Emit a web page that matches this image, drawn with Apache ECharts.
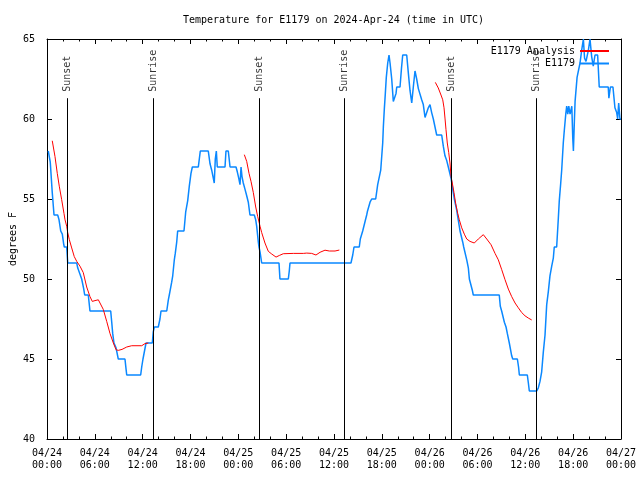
<!DOCTYPE html>
<html><head><meta charset="utf-8">
<script src="https://cdn.jsdelivr.net/npm/echarts@6/dist/echarts.min.js"></script>
<style>html,body{margin:0;padding:0;background:#fff}#c{width:640px;height:480px}</style>
</head><body><div id="c"></div>
<script>
const tickLabels = ['04/24\n00:00','04/24\n06:00','04/24\n12:00','04/24\n18:00','04/25\n00:00','04/25\n06:00','04/25\n12:00','04/25\n18:00','04/26\n00:00','04/26\n06:00','04/26\n12:00','04/26\n18:00','04/27\n00:00'];

// hours since 2024-04-24 00:00 UTC
const blueHours = [0.16,0.41,0.66,0.88,1.34,1.51,1.72,1.92,2.09,2.17,2.47,2.60,3.73,3.85,4.14,4.35,4.60,4.73,5.18,5.39,7.99,8.12,8.24,8.40,8.66,8.94,9.78,9.91,10.00,11.75,11.88,12.04,12.42,13.21,13.33,13.46,13.96,14.17,14.30,15.02,15.22,15.34,15.51,15.64,15.77,15.97,16.09,16.27,16.39,17.18,17.22,17.40,17.65,17.85,18.06,18.23,18.98,19.23,20.23,20.45,20.66,20.86,20.98,21.11,21.24,21.36,22.33,22.45,22.74,22.96,23.71,23.87,24.05,24.21,24.34,24.46,24.62,24.84,25.05,25.25,25.46,26.00,26.18,26.30,26.51,26.59,26.72,26.93,29.10,29.22,30.27,30.39,30.48,38.13,38.35,38.51,39.17,39.30,39.60,39.95,40.10,40.18,40.52,40.73,41.23,41.48,41.86,42.11,42.19,42.31,42.44,42.56,42.74,42.90,43.03,43.24,43.44,43.66,43.78,43.87,44.28,44.47,44.62,45.12,45.32,45.53,45.75,45.95,46.16,46.37,46.58,46.79,47.00,47.20,47.42,47.63,47.83,48.04,48.25,48.46,48.67,48.88,49.51,49.71,49.92,50.14,50.34,50.68,50.96,51.09,51.39,51.68,51.81,52.00,52.15,52.27,52.47,52.65,52.85,52.98,53.19,53.35,53.47,56.73,56.86,57.03,57.20,57.37,57.58,57.74,57.99,58.12,58.29,58.42,59.00,59.15,59.25,60.25,60.38,60.50,61.43,61.63,61.84,62.05,62.25,62.47,62.68,62.88,63.09,63.31,63.51,63.63,63.93,64.14,64.26,64.44,64.56,64.76,64.89,65.07,65.19,65.32,65.45,65.61,65.83,65.95,66.03,66.16,66.24,66.37,66.49,66.86,67.07,67.28,67.43,67.61,67.91,68.11,68.32,68.52,68.74,69.07,69.27,70.40,70.48,70.67,70.99,71.24,71.46,71.58,71.71,71.87,72.00];
const blueTemps = [58.0,57.3,55.4,54.0,54.0,53.7,53.0,52.8,52.2,52.0,52.0,51.0,51.0,50.7,50.3,50.0,49.4,49.0,49.0,48.0,48.0,47.3,46.6,46.0,45.7,45.0,45.0,44.4,44.0,44.0,44.5,45.0,46.0,46.0,46.7,47.0,47.0,47.5,48.0,48.0,48.7,49.0,49.0,49.8,50.2,51.2,51.6,52.3,53.0,53.0,53.2,54.2,54.9,55.8,56.6,57.0,57.0,58.0,58.0,57.2,56.8,56.3,56.0,57.5,58.0,57.0,57.0,58.0,58.0,57.0,57.0,56.7,56.3,55.9,57.0,56.4,56.0,55.6,55.2,54.8,54.0,54.0,53.7,53.3,52.3,52.0,51.7,51.0,51.0,50.0,50.0,50.5,51.0,51.0,51.5,52.0,52.0,52.5,53.0,53.7,54.0,54.2,54.8,55.0,55.0,55.9,56.8,58.5,59.5,60.6,61.6,62.6,63.5,64.0,63.5,62.5,61.1,61.0,61.6,62.0,62.0,63.2,64.0,64.0,62.9,61.8,61.0,62.0,63.0,62.5,61.9,61.9,61.2,60.9,60.1,60.1,60.7,60.9,60.4,60.0,59.5,59.0,59.0,58.3,57.7,57.4,57.0,56.3,55.4,55.0,54.3,53.4,53.0,53.0,52.3,52.0,52.0,51.2,50.7,50.0,50.0,49.3,49.0,49.0,48.3,48.0,48.0,47.3,47.0,46.6,46.0,46.0,45.2,45.0,45.0,44.5,44.0,44.0,43.5,43.0,43.0,43.2,43.6,44.2,45.4,46.5,48.4,49.2,50.2,50.8,51.3,52.0,52.0,53.8,54.9,56.0,56.8,58.5,59.3,60.3,60.8,60.3,60.8,60.3,60.8,58.8,58.0,60.0,61.1,61.2,62.6,63.5,64.3,65.0,63.8,63.6,64.3,65.0,63.9,63.3,64.0,64.0,62.0,62.0,61.3,62.0,62.0,60.7,60.4,60.0,61.0,60.0,60.0];

const redHours = [0.66,1.00,1.29,1.54,1.84,2.13,2.26,2.47,2.60,2.80,3.10,3.42,3.73,4.14,4.55,4.98,5.39,5.68,6.02,6.44,6.65,7.06,7.49,7.90,8.32,8.66,8.94,9.41,10.00,10.62,11.88,12.29,12.71,
  18.0,
  24.75,25.05,25.34,25.59,25.88,26.18,26.43,26.72,26.93,27.34,27.76,28.19,28.73,29.14,29.64,30.90,32.15,32.58,33.20,33.74,34.25,34.87,35.41,36.13,36.67,
  42.0,
  48.71,49.08,49.42,49.64,49.80,49.92,50.05,50.21,50.39,50.55,50.68,50.84,51.05,51.27,51.52,51.72,52.02,52.35,52.65,53.06,53.60,54.10,54.73,55.16,55.70,56.20,56.61,57.04,57.45,57.87,58.29,58.71,59.12,59.55,59.96,60.37,60.80];
const redTemps = [58.64,57.66,56.6,55.8,54.96,54.1,53.7,53.3,52.9,52.46,51.94,51.4,51.1,50.8,50.4,49.5,48.9,48.6,48.65,48.7,48.6,48.1,47.35,46.6,46.0,45.58,45.54,45.6,45.75,45.83,45.83,45.96,46.0,
  null,
  57.77,57.35,56.6,56.1,55.4,54.5,53.9,53.3,52.9,52.25,51.73,51.56,51.37,51.47,51.58,51.6,51.6,51.62,51.6,51.5,51.67,51.8,51.75,51.75,51.81,
  null,
  62.29,61.94,61.5,61.2,60.7,60.06,59.33,58.5,57.9,57.25,56.4,56.0,55.4,54.7,54.1,53.7,53.2,52.8,52.5,52.35,52.25,52.5,52.77,52.5,52.14,51.6,51.2,50.58,49.96,49.37,48.9,48.5,48.2,47.9,47.7,47.56,47.44];

const sunHours = [2.55, 13.32, 26.60, 37.27, 50.67, 61.33];
const sunNames = ['Sunset','Sunrise','Sunset','Sunrise','Sunset','Sunrise'];

const FONT = 'DejaVu Sans Mono';
const chart = echarts.init(document.getElementById('c'), null, {renderer:'canvas'});

const blueData = blueHours.map((h,i)=>[h, blueTemps[i]]);
const redData = redHours.map((h,i)=>[h, redTemps[i] === null ? '-' : redTemps[i]]);

const xBase = {
  type:'value', min:0, max:72, interval:6,
  axisLine:{show:true, onZero:false, lineStyle:{color:'#000', width:1}},
  axisTick:{show:true, inside:true, length:5, lineStyle:{color:'#000'}},
  minorTick:{show:true, splitNumber:3, length:2.5, lineStyle:{color:'#000'}},
  splitLine:{show:false}, minorSplitLine:{show:false}
};
const yBase = {
  type:'value', min:40, max:65, interval:5,
  axisLine:{show:true, onZero:false, lineStyle:{color:'#000', width:1}},
  axisTick:{show:true, inside:true, length:5, lineStyle:{color:'#000'}},
  splitLine:{show:false}
};

chart.setOption({
  animation:false,
  backgroundColor:'#fff',
  textStyle:{fontFamily:FONT},
  title:{text:'Temperature for E1179 on 2024-Apr-24 (time in UTC)', left:183, top:14, padding:0,
    textStyle:{fontFamily:FONT, fontSize:10, fontWeight:'normal', color:'#000', lineHeight:12}},
  grid:{left:47, right:19, top:39, bottom:41, containLabel:false, outerBoundsMode:'none'},
  legend:{
    data:['E1179 Analysis','E1179'], orient:'vertical', align:'right', padding:0,
    right:30, top:45, itemWidth:29, itemHeight:12, itemGap:0.5,
    itemStyle:{opacity:0},
    textStyle:{fontFamily:FONT, fontSize:10, color:'#000', lineHeight:12}
  },
  xAxis:[
    Object.assign({}, xBase, {position:'bottom',
      axisLabel:{show:true, margin:8, fontFamily:FONT, fontSize:10, color:'#000', lineHeight:12,
        formatter:(v)=>tickLabels[Math.round(v/6)]}}),
    Object.assign({}, xBase, {position:'top', axisLabel:{show:false}})
  ],
  yAxis:[
    Object.assign({}, yBase, {position:'left', name:'degrees F', nameLocation:'middle', nameGap:29, nameRotate:90,
      nameMoveOverlap:false,
      nameTextStyle:{fontFamily:FONT, fontSize:10, color:'#000'},
      axisLabel:{show:true, margin:12, fontFamily:FONT, fontSize:10, color:'#000'}}),
    Object.assign({}, yBase, {position:'right', axisLabel:{show:false}})
  ],
  series:[
    {name:'E1179', type:'line', data:blueData, showSymbol:false, symbol:'none',
      lineStyle:{color:'#0a88ff', width:1.5}, itemStyle:{color:'#0a88ff'}, z:3},
    {name:'E1179 Analysis', type:'line', data:redData, showSymbol:false, symbol:'none', connectNulls:false,
      lineStyle:{color:'#ff0000', width:1}, itemStyle:{color:'#ff0000'}, z:4},
    {name:'sun', type:'scatter', symbolSize:0, silent:true, z:5,
      data: sunHours.map((h,i)=>({value:[h, 61.7], name:sunNames[i]})),
      label:{show:true, formatter:'{b}', position:[0,0], rotate:90, align:'left', verticalAlign:'middle',
        fontFamily:FONT, fontSize:10, color:'#000'},
      markLine:{silent:true, symbol:['none','none'], label:{show:false},
        lineStyle:{color:'#000', width:1, type:'solid'},
        data: sunHours.map(h=>[{coord:[h,40]},{coord:[h,61.3]}])}
    }
  ]
});
</script></body></html>
